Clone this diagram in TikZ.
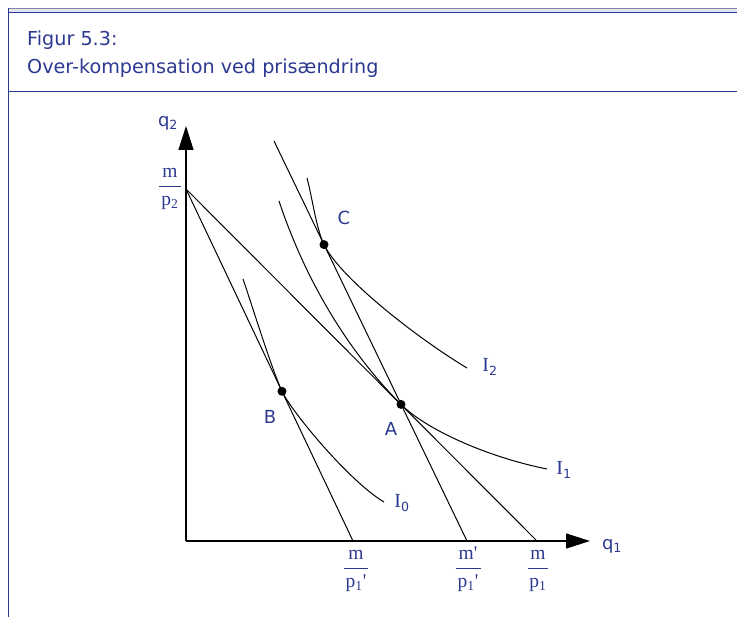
\documentclass[tikz,border=0pt]{standalone}
\usepackage{amsmath}
\usepackage{fontspec}
\setmainfont{Liberation Serif}
\newfontfamily\verd{DejaVu Sans}
\usetikzlibrary{arrows.meta}
\definecolor{figblue}{RGB}{44,57,144}
\definecolor{bandgray}{RGB}{226,228,238}
\definecolor{linegray}{RGB}{128,134,170}
\newcommand{\fr}[3]{$\genfrac{}{}{0.8pt}{0}{\makebox[#1]{#2}}{\makebox[#1]{#3}}$}
\newcommand{\pp}{\textquotesingle}

\begin{document}
\begin{tikzpicture}[x=1pt,y=-1pt]
\tikzset{
  lbl/.style={text=figblue,font=\verd\fontsize{18}{20}\selectfont,inner sep=0pt},
  ttl/.style={text=figblue,font=\verd\fontsize{19.2}{22}\selectfont,inner sep=0pt,anchor=base west},
  frac/.style={text=figblue,font=\rmfamily\fontsize{19.5}{21}\selectfont,inner sep=0pt,anchor=base},
  curve/.style={line width=1pt},
  axis/.style={line width=1.3pt,-{Triangle[length=24pt,width=15pt]}}
}
\useasboundingbox (0,0) rectangle (737,617);
% frame
\fill[bandgray] (8,9) rectangle (737,12);
\draw[linegray,line width=1pt] (8,8.5) -- (737,8.5);
\draw[figblue,line width=1.2pt] (8,12.4) -- (737,12.4);
\draw[figblue,line width=1.6pt] (8.6,8) -- (8.6,617);
\draw[figblue,line width=1.2pt] (8,91.5) -- (737,91.5);
\node[ttl] (fig) at (27,46) {Figur 5.3:};
\node[ttl] (cap) at (27,74) {Over-kompensation ved prisændring};
% points
\coordinate (O) at (186,541);
\coordinate (ytop) at (186,126);
\coordinate (xend) at (590,541);
\coordinate (mp2) at (186,189);
\coordinate (mp1) at (537,541);
\coordinate (mp1n) at (353,541);
\coordinate (mcp1) at (467,541);
\coordinate (ctop) at (274,141);
\coordinate (A) at (401,404.4);
\coordinate (B) at (282,391.3);
\coordinate (C) at (324,244.6);
% axes
\draw[axis] (O) -- (ytop);
\draw[axis] (O) -- (xend);
\node[lbl] (q2) at (168,123) {q\textsubscript{2}};
\node[lbl] (q1) at (612,546) {q\textsubscript{1}};
% budget lines
\draw[curve] (mp2) -- (mp1);
\draw[curve] (mp2) -- (mp1n);
\draw[curve] (ctop) -- (mcp1);
% indifference curves
\draw[curve] (243,279) .. controls (251,302) and (272,370.2) .. (B)
  .. controls (292,412.4) and (350,482) .. (384,502);
\draw[curve] (279,201) .. controls (309,291) and (356,359.4) .. (A)
  .. controls (426,429.4) and (487,457) .. (547,469);
\draw[curve] (307,178) .. controls (312,196) and (316,228) .. (C)
  .. controls (340,277.8) and (417,338) .. (467,368);
\fill (A) circle (4.5pt);
\fill (B) circle (4.5pt);
\fill (C) circle (4.5pt);
% labels
\node[lbl] (lA) at (391,429) {A};
\node[lbl] (lB) at (270,417) {B};
\node[lbl] (lC) at (344,218) {C};
\node[lbl] (l0) at (402,503) {{\rmfamily\fontsize{20}{20}\selectfont I}\textsubscript{0}};
\node[lbl] (l1) at (564,470) {{\rmfamily\fontsize{20}{20}\selectfont I}\textsubscript{1}};
\node[lbl] (l2) at (490,367) {{\rmfamily\fontsize{20}{20}\selectfont I}\textsubscript{2}};
\node[frac] (fy) at (170,191.5) {\fr{22pt}{m}{p\textsubscript{2}}};
\node[frac] (fx1) at (356,573.5) {\fr{24pt}{m}{p\textsubscript{1}\pp}};
\node[frac] (fx2) at (468,573.5) {\fr{25pt}{m\pp}{p\textsubscript{1}\pp}};
\node[frac] (fx3) at (538,573.5) {\fr{20pt}{m}{p\textsubscript{1}}};
\end{tikzpicture}
\end{document}
